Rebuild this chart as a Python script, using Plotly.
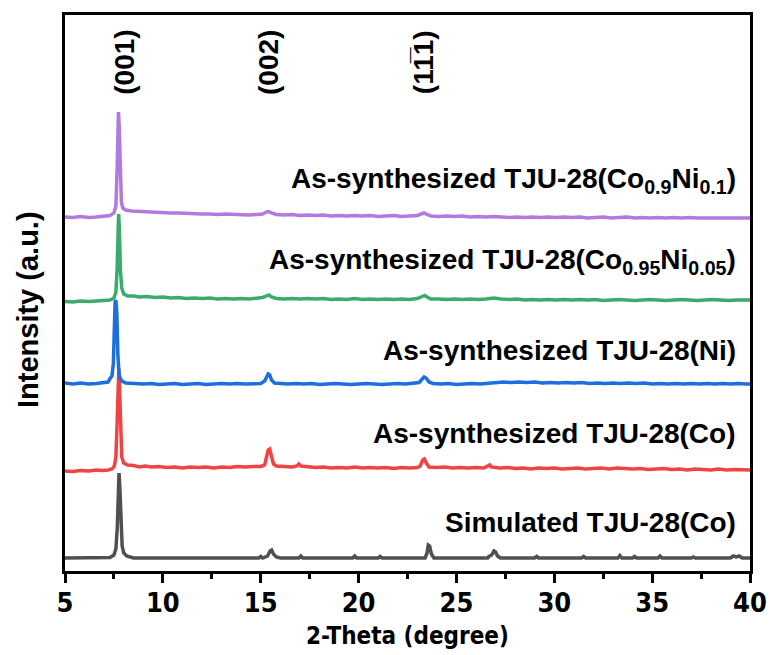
import plotly.graph_objects as go

# 2-theta (deg) / intensity (a.u.) points for each pattern
sim_pts = [
    (5.0, 0), (6.0, 0), (7.0, 0), (7.3, 0.5), (7.5, 3), (7.6, 9), (7.67, 30), (7.72, 70),
    (7.76, 85), (7.8, 72), (7.85, 35), (7.92, 12), (8.0, 5), (8.15, 2), (8.5, 0),
    (12.0, 0), (14.9, 0), (15.0, 1.5), (15.1, 0), (15.35, 2), (15.48, 7), (15.56, 8),
    (15.65, 4), (15.8, 1), (16.0, 0), (16.95, 0), (17.05, 2), (17.15, 0), (19.7, 0),
    (19.8, 2), (19.9, 0), (21.0, 0), (21.1, 1.5), (21.2, 0), (23.4, 0), (23.5, 5),
    (23.56, 13), (23.63, 12), (23.72, 4), (23.85, 0), (26.6, 0), (26.65, 1.5), (26.8, 3),
    (26.92, 7), (27.0, 6), (27.1, 2), (27.25, 0), (29.0, 0), (29.1, 1.5), (29.2, 0),
    (31.4, 0), (31.5, 1.5), (31.6, 0), (33.25, 0), (33.35, 2.5), (33.45, 0), (34.0, 0),
    (34.1, 1.5), (34.2, 0), (35.3, 0), (35.4, 2), (35.5, 0), (37.0, 0), (37.1, 1),
    (37.2, 0), (39.0, 0), (39.15, 2), (39.3, 1), (39.45, 2), (39.6, 0), (40.0, 0),
]

co_pts = [
    (5.0, -2), (5.4, -2.5), (5.8, -1.5), (6.2, -2), (6.6, -1), (6.9, -1.5), (7.2, -1),
    (7.4, 0), (7.52, 3), (7.6, 12), (7.66, 45), (7.71, 92), (7.75, 101), (7.79, 80),
    (7.84, 35), (7.9, 12), (8.0, 6), (8.2, 4), (8.5, 3.5), (8.8, 2), (9.1, 3), (9.4, 2),
    (9.8, 2.5), (10.2, 1.5), (10.6, 2), (11.0, 1), (11.4, 2), (11.8, 1.5), (12.2, 2),
    (12.6, 1), (13.0, 2), (13.4, 1.5), (13.8, 2.5), (14.2, 2), (14.6, 2.5), (15.0, 2.5),
    (15.2, 4), (15.3, 12), (15.38, 19), (15.46, 20), (15.54, 13), (15.65, 5), (15.8, 3),
    (16.2, 2.5), (16.6, 2), (16.85, 3), (16.95, 5), (17.05, 3), (17.4, 2), (17.8, 1.5),
    (18.2, 2), (18.6, 1), (19.0, 1.5), (19.4, 1), (19.8, 2), (20.2, 1), (20.6, 1.5),
    (21.0, 1), (21.4, 1.5), (21.8, 0.5), (22.2, 1.5), (22.6, 1), (23.0, 1.5), (23.15, 3),
    (23.28, 9), (23.36, 10), (23.46, 6), (23.6, 2), (24.0, 1.5), (24.4, 2), (24.8, 1),
    (25.2, 1.5), (25.6, 1), (26.0, 1.5), (26.4, 1), (26.6, 2.5), (26.7, 4), (26.8, 2),
    (27.2, 1), (27.6, 1.5), (28.0, 0.5), (28.4, 1), (28.8, 0), (29.2, 1), (29.6, 0.5),
    (30.0, 1), (30.4, 0), (30.8, 0.5), (31.2, 1), (31.6, 0), (32.0, 0.5), (32.4, 1),
    (32.8, 0), (33.2, 1), (33.6, 0.5), (34.0, 0), (34.4, 0.5), (34.8, -0.5), (35.2, 0),
    (35.6, 0.5), (36.0, -0.5), (36.4, 0), (36.8, -1), (37.2, 0), (37.6, -0.5), (38.0, -1),
    (38.4, 0), (38.8, -1), (39.2, -0.5), (39.6, -1), (40.0, -1),
]

ni_pts = [
    (5.0, 1), (5.4, 0), (5.8, 1), (6.2, 0), (6.6, 0.5), (7.0, 1), (7.2, 2), (7.32, 6),
    (7.4, 8), (7.47, 20), (7.52, 60), (7.56, 82), (7.6, 84), (7.65, 70), (7.7, 30),
    (7.76, 10), (7.82, 6), (7.9, 3), (8.1, 1), (8.5, 0.5), (9.0, 0), (9.4, 0.5),
    (9.8, -0.5), (10.2, 0), (10.6, 0.5), (11.0, -0.5), (11.4, 0), (11.8, 0.5), (12.2, -0.5),
    (12.6, 0), (13.0, 0.5), (13.4, 0), (13.8, 0.5), (14.2, 0), (14.6, 0.5), (15.0, 0.5),
    (15.2, 3), (15.3, 8), (15.38, 10), (15.46, 9), (15.55, 4), (15.7, 1), (16.0, 0.5),
    (16.4, 0), (16.8, 0.5), (17.2, 0), (17.6, 0.5), (18.0, -0.5), (18.4, 0), (18.8, 0.5),
    (19.2, 0), (19.6, -0.5), (20.0, 0), (20.4, 0.5), (20.8, 0), (21.2, -0.5), (21.6, 0),
    (22.0, 0.5), (22.4, 0), (22.8, 0.5), (23.1, 1.5), (23.25, 5), (23.35, 7), (23.45, 6),
    (23.6, 2), (23.8, 0.5), (24.2, 0), (24.6, 0.5), (25.0, -0.5), (25.4, 0), (25.8, 0.5),
    (26.2, 0), (26.6, 0.5), (27.0, 1.5), (27.4, 2), (27.8, 1.5), (28.2, 2), (28.6, 1.5),
    (29.0, 2), (29.4, 1), (29.8, 1.5), (30.2, 1), (30.6, 1.5), (31.0, 1), (31.4, 1.5),
    (31.8, 0.5), (32.2, 1), (32.6, 0.5), (33.0, 1), (33.4, 0.5), (33.8, 1), (34.2, 0.5),
    (34.6, 1), (35.0, 0), (35.4, 0.5), (35.8, 0), (36.2, 0.5), (36.6, 0), (37.0, 0.5),
    (37.4, 0), (37.8, 0.5), (38.2, 0), (38.6, 0.5), (39.0, 0), (39.4, 0.5), (39.8, 0),
    (40.0, 0),
]

co95_pts = [
    (5.0, -1.5), (5.4, -2), (5.8, -1), (6.2, -1.5), (6.6, -1), (7.0, -0.5), (7.3, 0),
    (7.5, 2), (7.6, 8), (7.66, 30), (7.71, 75), (7.74, 86), (7.78, 70), (7.83, 30),
    (7.9, 12), (8.0, 6), (8.2, 4), (8.5, 4), (8.8, 3), (9.2, 3.5), (9.6, 2.5), (10.0, 3),
    (10.4, 2), (10.8, 2.5), (11.2, 1.5), (11.6, 2), (12.0, 1.5), (12.4, 2), (12.8, 1),
    (13.2, 1.5), (13.6, 1), (14.0, 1.5), (14.4, 1), (14.8, 1.5), (15.1, 2.5), (15.3, 4),
    (15.42, 5), (15.55, 3), (15.8, 1.5), (16.2, 1), (16.6, 1.5), (17.0, 1), (17.4, 1.5),
    (17.8, 1), (18.2, 1.5), (18.6, 0.5), (19.0, 1), (19.4, 0.5), (19.8, 1.5), (20.2, 0.5),
    (20.6, 1), (21.0, 0.5), (21.4, 1), (21.8, 0.5), (22.2, 1), (22.6, 0.5), (23.0, 1.5),
    (23.25, 3.5), (23.38, 4.5), (23.5, 3), (23.7, 1), (24.1, 1), (24.5, 0.5), (24.9, 1),
    (25.3, 0.5), (25.7, 1), (26.1, 0.5), (26.5, 1), (26.9, 2), (27.3, 1), (27.7, 0.5),
    (28.1, 1), (28.5, 0), (28.9, 0.5), (29.3, 0), (29.7, 0.5), (30.1, 0), (30.5, 0.5),
    (30.9, 0), (31.3, 0.5), (31.7, 0), (32.1, 0.5), (32.5, -0.5), (32.9, 0), (33.3, 0.5),
    (33.7, 0), (34.1, -0.5), (34.5, 0), (34.9, 0.5), (35.3, 0), (35.7, -0.5), (36.1, 0),
    (36.5, 0.5), (36.9, 0), (37.3, -0.5), (37.7, 0), (38.1, 0.5), (38.5, 0), (38.9, -0.5),
    (39.3, 0), (39.7, 0.5), (40.0, 0),
]

co90_pts = [
    (5.0, -1), (5.4, -1.5), (5.8, -0.5), (6.2, -1.5), (6.6, -1), (7.0, -0.5), (7.3, 0.5),
    (7.5, 3), (7.6, 10), (7.66, 45), (7.7, 95), (7.73, 104), (7.77, 90), (7.82, 40),
    (7.88, 14), (7.95, 8), (8.1, 6), (8.4, 5), (8.8, 4.5), (9.2, 4), (9.6, 4), (10.0, 3.5),
    (10.4, 3), (10.8, 3), (11.2, 2.5), (11.6, 2.5), (12.0, 2), (12.4, 2), (12.8, 1.5),
    (13.2, 2), (13.6, 1.5), (14.0, 1.5), (14.4, 1), (14.8, 1.5), (15.1, 2), (15.3, 4),
    (15.42, 4.5), (15.55, 3), (15.8, 1.5), (16.2, 1), (16.6, 1.5), (17.0, 0.5), (17.4, 1),
    (17.8, 0.5), (18.2, 1), (18.6, 0), (19.0, 0.5), (19.4, 0), (19.8, 0.5), (20.2, 0),
    (20.6, 0.5), (21.0, -0.5), (21.4, 0), (21.8, 0.5), (22.2, -0.5), (22.6, 0), (23.0, 0.5),
    (23.2, 2), (23.35, 3), (23.5, 1.5), (23.7, 0), (24.1, -0.5), (24.5, 0), (24.9, -0.5),
    (25.3, 0), (25.7, -1), (26.1, -0.5), (26.5, -1), (26.9, -0.5), (27.3, -1), (27.7, -1.5),
    (28.1, -1), (28.5, -1.5), (28.9, -1), (29.3, -1.5), (29.7, -1), (30.1, -1.5), (30.5, -1),
    (30.9, -1.5), (31.3, -1), (31.7, -2), (32.1, -1.5), (32.5, -1), (32.9, -2), (33.3, -1.5),
    (33.7, -1), (34.1, -2), (34.5, -1.5), (34.9, -2), (35.3, -1.5), (35.7, -2), (36.1, -1.5),
    (36.5, -2), (36.9, -1.5), (37.3, -2), (37.7, -2), (38.1, -1.5), (38.5, -2), (38.9, -2),
    (39.3, -1.5), (39.7, -2), (40.0, -2),
]

# vertical stacking offsets (a.u.), bottom to top
offsets = [13, 102, 187, 271, 355]

labels = [
    "Simulated TJU-28(Co)",
    "As-synthesized TJU-28(Co)",
    "As-synthesized TJU-28(Ni)",
    "As-synthesized TJU-28(Co<sub>0.95</sub>Ni<sub>0.05</sub>)",
    "As-synthesized TJU-28(Co<sub>0.9</sub>Ni<sub>0.1</sub>)",
]
label_y = [49, 138, 221, 310, 391]

hkl_text = ["(001)", "(002)", "(11\u03051)"]
hkl_pos = [8.0, 15.37, 23.3]

colors = ["#505050", "#f04343", "#1c6fdd", "#3bab6b", "#b07ade"]
series = [sim_pts, co_pts, ni_pts, co95_pts, co90_pts]

fig = go.Figure()
for pts, off, col in zip(series, offsets, colors):
    xs = [p[0] for p in pts]
    ys = [p[1] + off for p in pts]
    fig.add_trace(go.Scatter(x=xs, y=ys, mode="lines",
                             line=dict(color=col, width=3.5), showlegend=False,
                             hoverinfo="skip"))

bold = dict(family="Liberation Sans, Arial, sans-serif", size=28, color="black", weight="bold")
narrow = dict(family="DejaVu Sans Condensed, Liberation Sans Narrow, Liberation Sans, sans-serif",
              color="black", weight="bold")

annotations = []
for txt, yy in zip(labels, label_y):
    annotations.append(dict(x=39.4, y=yy, xref="x", yref="y", text=txt, showarrow=False,
                            xanchor="right", yanchor="middle", font=bold))
for txt, xx in zip(hkl_text, hkl_pos):
    annotations.append(dict(x=xx, y=509, xref="x", yref="y", text=txt, showarrow=False,
                            textangle=-90, xanchor="center", yanchor="middle", font=bold))

annotations.append(dict(x=-0.055, y=0.47, xref="paper", yref="paper",
                        text="Intensity (a.u.)", showarrow=False, textangle=-90,
                        xanchor="center", yanchor="middle",
                        font=dict(family="Liberation Sans, Arial, sans-serif", size=29,
                                  color="black", weight="bold")))
annotations.append(dict(x=0.5, y=-0.117, xref="paper", yref="paper",
                        text="2-Theta (degree)", showarrow=False,
                        xanchor="center", yanchor="middle", font=dict(narrow, size=24)))

fig.update_layout(
    width=770, height=655, autosize=False,
    margin=dict(l=65, r=20, t=15, b=84, autoexpand=False),
    plot_bgcolor="white", paper_bgcolor="white",
    annotations=annotations,
    xaxis=dict(range=[5, 40], showgrid=False, zeroline=False, automargin=False,
               showline=True, linewidth=3, linecolor="black", mirror=True,
               ticks="outside", ticklen=9, tickwidth=3, tickcolor="black",
               tickmode="linear", tick0=5, dtick=5, ticklabelstandoff=-3,
               tickfont=dict(narrow, size=27),
               minor=dict(ticks="outside", ticklen=5, tickwidth=3, tickcolor="black",
                          dtick=2.5, tick0=5, showgrid=False)),
    yaxis=dict(range=[0, 556], showgrid=False, zeroline=False, automargin=False,
               showline=True, linewidth=3, linecolor="black", mirror=True,
               showticklabels=False, ticks=""),
)

fig.write_html("out.html")
